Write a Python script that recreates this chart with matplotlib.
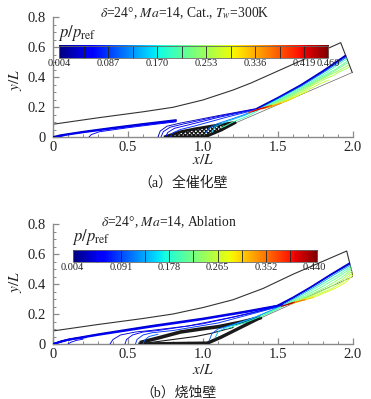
import numpy as np
import matplotlib
matplotlib.use("Agg")
import matplotlib.pyplot as plt
from matplotlib.patches import Polygon, Rectangle
from matplotlib.ticker import MultipleLocator, FuncFormatter

plt.rcParams['font.family'] = ['Liberation Serif', 'Noto Sans CJK SC']
plt.rcParams['mathtext.fontset'] = 'stix'
plt.rcParams['hatch.linewidth'] = 0.9

# ---------------- data ----------------
# colour-bar definition
cb_ticks_a = [0.004, 0.087, 0.170, 0.253, 0.336, 0.419, 0.460]
cb_levels_a = [0.004, 0.0455, 0.087, 0.1285, 0.170, 0.2115, 0.253, 0.2945,
               0.336, 0.3775, 0.419, 0.460]
cb_ticks_b = [0.004, 0.091, 0.178, 0.265, 0.352, 0.440]
cb_levels_b = [0.004, 0.0475, 0.091, 0.1345, 0.178, 0.2215, 0.265, 0.3085,
               0.352, 0.3955, 0.440, 0.444]

# domain outer boundary (x/L, y/L)
outer_a = [(0.0, 0.085), (0.3, 0.128), (0.6, 0.168), (0.8, 0.198), (1.0, 0.247),
           (1.2, 0.313), (1.32, 0.36), (1.6, 0.485), (1.918, 0.629), (1.995, 0.43)]
ramp_a = [(1.0, 0.0), (1.995, 0.43)]
outer_b = [(0.0, 0.087), (0.3, 0.13), (0.6, 0.17), (0.8, 0.2), (1.0, 0.243),
           (1.2, 0.295), (1.4, 0.37), (1.6, 0.465), (1.958, 0.62), (2.0, 0.45)]
ramp_b = [(1.0, 0.0), (2.0, 0.45)]

# pressure contour lines: (level p/p_ref, points)
contours_a = [
    (0.030, [(0.0, 0.0), (0.05, 0.012), (0.2, 0.035), (0.4, 0.062), (0.6, 0.087), (0.82, 0.113)]),
    (0.050, [(0.03, 0.0), (0.08, 0.013), (0.2, 0.031), (0.4, 0.057), (0.6, 0.082), (0.82, 0.107)]),
    (0.060, [(0.24, 0.0), (0.255, 0.016), (0.31, 0.035), (0.5, 0.062), (0.7, 0.087), (0.82, 0.101)]),
    (0.030, [(0.70, 0.0), (0.715, 0.04), (0.76, 0.072), (0.85, 0.093), (1.1, 0.142), (1.36, 0.19)]),
    (0.045, [(0.72, 0.0), (0.735, 0.035), (0.78, 0.065), (0.87, 0.087), (1.1, 0.137), (1.36, 0.188)]),
    (0.060, [(0.75, 0.0), (0.765, 0.03), (0.81, 0.058), (0.9, 0.08), (1.1, 0.13), (1.36, 0.186)]),
    (0.080, [(0.78, 0.0), (0.80, 0.028), (0.85, 0.05), (0.95, 0.075), (1.15, 0.13), (1.36, 0.184)]),
    (0.110, [(1.02, 0.03), (1.04, 0.06), (1.1, 0.09), (1.25, 0.14), (1.36, 0.182)]),
    (0.150, [(1.06, 0.03), (1.08, 0.07), (1.15, 0.1), (1.28, 0.145), (1.36, 0.18)]),
    (0.200, [(1.12, 0.06), (1.2, 0.1), (1.3, 0.14), (1.37, 0.178)]),
    # downstream fan
    (0.030, [(1.36, 0.19), (1.5, 0.262), (1.65, 0.345), (1.8, 0.44), (1.949, 0.542)]),
    (0.050, [(1.37, 0.19), (1.5, 0.259), (1.65, 0.341), (1.8, 0.435), (1.952, 0.537)]),
    (0.110, [(1.38, 0.192), (1.5, 0.255), (1.65, 0.336), (1.8, 0.428), (1.955, 0.53)]),
    (0.200, [(1.39, 0.193), (1.52, 0.258), (1.66, 0.333), (1.8, 0.415), (1.957, 0.52)]),
    (0.215, [(1.40, 0.194), (1.53, 0.256), (1.66, 0.325), (1.8, 0.405), (1.88, 0.45), (1.962, 0.505)]),
    (0.230, [(1.41, 0.195), (1.54, 0.255), (1.66, 0.318), (1.78, 0.385), (1.86, 0.43), (1.966, 0.495)]),
    (0.245, [(1.42, 0.196), (1.55, 0.252), (1.66, 0.31), (1.76, 0.37), (1.84, 0.41), (1.9, 0.44), (1.970, 0.48)]),
    (0.260, [(1.43, 0.197), (1.56, 0.25), (1.66, 0.30), (1.74, 0.35), (1.82, 0.39), (1.87, 0.41), (1.9, 0.43), (1.975, 0.465)]),
    (0.270, [(1.44, 0.198), (1.57, 0.248), (1.66, 0.29), (1.72, 0.325), (1.78, 0.355), (1.84, 0.38)]),
    (0.290, [(1.44, 0.197), (1.56, 0.243), (1.64, 0.28), (1.70, 0.305)]),
    (0.320, [(1.40, 0.19), (1.48, 0.215), (1.56, 0.24), (1.60, 0.26)]),
    (0.350, [(1.39, 0.186), (1.46, 0.205), (1.52, 0.225)]),
    (0.375, [(1.30, 0.16), (1.37, 0.186), (1.46, 0.212)]),
    (0.400, [(1.31, 0.165), (1.37, 0.185), (1.44, 0.205)]),
    (0.430, [(1.33, 0.17), (1.37, 0.183), (1.42, 0.198)]),
]
lead_a = [0, 1, 10]

contours_b = [
    (0.030, [(0.0, 0.0), (0.06, 0.02), (0.14, 0.035), (0.22, 0.045)]),
    (0.060, [(0.1, 0.0), (0.12, 0.012), (0.16, 0.025), (0.2, 0.032)]),
    (0.030, [(0.0, 0.0), (0.1, 0.03), (0.3, 0.065), (0.65, 0.12), (1.0, 0.17), (1.3, 0.22), (1.53, 0.262)]),
    (0.050, [(0.0, 0.0), (0.1, 0.027), (0.3, 0.06), (0.65, 0.114), (1.0, 0.165), (1.3, 0.215), (1.53, 0.26)]),
    (0.040, [(0.38, 0.0), (0.40, 0.03), (0.45, 0.06), (0.55, 0.08), (0.65, 0.09), (0.9, 0.12), (1.2, 0.18), (1.53, 0.258)]),
    (0.060, [(0.48, 0.0), (0.49, 0.03), (0.53, 0.06), (0.6, 0.08), (0.7, 0.09), (1.0, 0.135), (1.3, 0.2), (1.53, 0.256)]),
    (0.080, [(0.55, 0.0), (0.56, 0.03), (0.6, 0.06), (0.66, 0.075), (0.8, 0.09), (1.1, 0.14), (1.53, 0.255)]),
    (0.100, [(0.60, 0.0), (0.61, 0.025), (0.64, 0.05), (0.7, 0.065)]),
    (0.100, [(1.04, 0.02), (1.06, 0.07), (1.1, 0.1), (1.2, 0.13), (1.35, 0.18), (1.53, 0.255)]),
    (0.140, [(1.08, 0.04), (1.1, 0.08), (1.15, 0.11), (1.3, 0.16), (1.53, 0.253)]),
    (0.180, [(1.15, 0.1), (1.3, 0.15), (1.45, 0.21), (1.54, 0.255)]),
    (0.220, [(1.38, 0.18), (1.45, 0.215), (1.53, 0.252)]),
    # downstream fan
    (0.030, [(1.5, 0.258), (1.6, 0.31), (1.72, 0.38), (1.85, 0.462), (1.975, 0.537)]),
    (0.060, [(1.52, 0.26), (1.62, 0.318), (1.74, 0.39), (1.86, 0.464), (1.978, 0.532)]),
    (0.130, [(1.54, 0.263), (1.64, 0.32), (1.76, 0.39), (1.88, 0.465), (1.981, 0.524)]),
    (0.200, [(1.55, 0.264), (1.66, 0.32), (1.78, 0.39), (1.9, 0.46), (1.983, 0.515)]),
    (0.215, [(1.56, 0.265), (1.68, 0.32), (1.8, 0.385), (1.9, 0.445), (1.986, 0.505)]),
    (0.230, [(1.57, 0.266), (1.7, 0.32), (1.82, 0.38), (1.92, 0.44), (1.989, 0.495)]),
    (0.245, [(1.58, 0.268), (1.72, 0.32), (1.84, 0.375), (1.93, 0.43), (1.992, 0.485)]),
    (0.260, [(1.59, 0.27), (1.74, 0.32), (1.86, 0.37), (1.94, 0.42), (1.995, 0.473)]),
    (0.275, [(1.6, 0.272), (1.76, 0.32), (1.88, 0.37), (1.95, 0.41), (1.998, 0.46)]),
    (0.310, [(1.58, 0.265), (1.66, 0.29), (1.74, 0.31)]),
    (0.360, [(1.56, 0.262), (1.62, 0.28), (1.68, 0.295)]),
    (0.410, [(1.52, 0.25), (1.56, 0.263), (1.61, 0.28)]),
    (0.430, [(1.53, 0.253), (1.57, 0.265), (1.6, 0.275)]),
]
lead_b = [0, 2, 3, 12]

# recirculation (dense black lines) regions
recirc_a = [(0.74, 0.0), (1.02, 0.003), (1.12, 0.045), (1.22, 0.098), (1.1, 0.08),
            (0.95, 0.055), (0.85, 0.035)]
recirc_b_top = [(0.59, 0.012), (0.7, 0.04), (0.85, 0.08), (1.0, 0.102), (1.1, 0.115),
                (1.25, 0.145), (1.38, 0.175)]
recirc_b_bot = [(0.58, 0.0), (0.8, 0.003), (1.03, 0.006), (1.12, 0.045), (1.25, 0.11),
                (1.38, 0.175)]
recirc_b_mid = [(0.62, 0.006), (0.8, 0.03), (0.95, 0.05), (1.05, 0.07), (1.2, 0.11)]

titles = [r'$\delta$=24°, $Ma$=14, Cat., $T_w$=300K', r'$\delta$=24°, $Ma$=14, Ablation']
captions = ['（a）全催化壁', '（b）烧蚀壁']

# ---------------- figure ----------------
fig = plt.figure(figsize=(3.71, 3.99), dpi=100)
axes_pos = [[53/371, (399-137)/399, 300/371, 120/399],
            [53/371, (399-344)/399, 300/371, 120/399]]

cmap = plt.get_cmap('jet')
spine_col = '#8a8a8a'
txt_col = '#222222'

panels = [
    dict(outer=outer_a, ramp=ramp_a, cont=contours_a, lead=lead_a,
         levels=cb_levels_a, ticks=cb_ticks_a, cbx=(0.04, 1.835), cby=(0.525, 0.607),
         lab=(0.03, 0.693), tpos=(0.88, 0.827), xl=-0.155, yl=0.38,
         cap=(183/371, (399-183)/399)),
    dict(outer=outer_b, ramp=ramp_b, cont=contours_b, lead=lead_b,
         levels=cb_levels_b, ticks=cb_ticks_b, cbx=(0.13, 1.76), cby=(0.549, 0.627),
         lab=(0.125, 0.713), tpos=(0.775, 0.813), xl=-0.173, yl=0.41,
         cap=(179/371, (399-393)/399)),
]

for i, P in enumerate(panels):
    ax = fig.add_axes(axes_pos[i])
    ax.set_xlim(0, 2.0)
    ax.set_ylim(0, 0.8)
    vmin, vmax = P['levels'][0], P['levels'][-1]
    norm = plt.Normalize(vmin, vmax)

    # domain boundary
    ox, oy = zip(*P['outer'])
    ax.plot(ox, oy, color='#333333', lw=0.8, zorder=2)
    rx, ry = zip(*P['ramp'])
    ax.plot(rx, ry, color='#666666', lw=0.5, zorder=2)

    # recirculation region (black streamline bundle)
    if i == 0:
        ax.add_patch(Polygon(recirc_a, closed=True, facecolor='none', edgecolor='#161616',
                             hatch='xxxxxxxx', lw=2.0, zorder=3))
    else:
        for seg, lw in [(recirc_b_top, 2.6), (recirc_b_bot, 2.4), (recirc_b_mid, 0.8)]:
            sx, sy = zip(*seg)
            ax.plot(sx, sy, color='#1a1a1a', lw=lw, zorder=3)

    # contour lines
    for j, (lev, pts) in enumerate(P['cont']):
        px, py = zip(*pts)
        ax.plot(px, py, color=cmap(norm(lev)), lw=1.3 if j in P['lead'] else 0.65,
                zorder=4, solid_capstyle='round')

    # colour bar drawn inside the axes
    x0, x1 = P['cbx']
    y0, y1 = P['cby']
    grad = np.linspace(vmin, vmax, 256).reshape(1, -1)
    ax.imshow(grad, cmap=cmap, norm=norm, extent=[x0, x1, y0, y1], aspect='auto',
              origin='lower', zorder=5, interpolation='bilinear')
    ax.set_aspect('auto')
    for lv in P['levels'][1:-1]:
        xx = x0 + (lv - vmin) / (vmax - vmin) * (x1 - x0)
        ax.plot([xx, xx], [y0, y1], color='#222222', lw=0.6, zorder=6)
    ax.add_patch(Rectangle((x0, y0), x1 - x0, y1 - y0, fill=False,
                           edgecolor='#666666', lw=0.6, zorder=6))
    for t in P['ticks']:
        xx = x0 + (t - vmin) / (vmax - vmin) * (x1 - x0)
        ax.text(xx, y0 - 0.037, f'{t:.3f}', ha='center', va='center',
                fontsize=7.5, color=txt_col, zorder=7)
    ax.text(P['lab'][0], P['lab'][1], r'$p/p_{\rm ref}$', ha='left', va='center',
            fontsize=12, color=txt_col, zorder=7)

    # title
    ax.text(P['tpos'][0], P['tpos'][1], titles[i], ha='center', va='center',
            fontsize=9.8, color=txt_col, clip_on=False)

    # axes styling
    for s in ['top', 'right']:
        ax.spines[s].set_visible(False)
    for s in ['left', 'bottom']:
        ax.spines[s].set_color(spine_col)
        ax.spines[s].set_linewidth(1.0)
    ax.xaxis.set_major_locator(MultipleLocator(0.5))
    ax.xaxis.set_minor_locator(MultipleLocator(0.1))
    ax.yaxis.set_major_locator(MultipleLocator(0.2))
    ax.yaxis.set_minor_locator(MultipleLocator(0.05))
    ax.tick_params(which='both', direction='in', color=spine_col, labelcolor=txt_col,
                   labelsize=10.5)
    ax.tick_params(which='major', length=4, width=0.9)
    ax.tick_params(which='minor', length=2.2, width=0.7)
    ax.tick_params(axis='y', pad=5)
    ax.tick_params(axis='x', pad=3)
    fmt = FuncFormatter(lambda v, p: '0' if v == 0 else f'{v:.1f}')
    ax.xaxis.set_major_formatter(fmt)
    ax.yaxis.set_major_formatter(fmt)
    ax.text(1.0, P['xl'], r'$x/L$', ha='center', va='center', fontsize=11,
            color=txt_col, clip_on=False)
    ax.text(-0.253, P['yl'], r'$y/L$', ha='center', va='center', fontsize=11,
            rotation=90, color=txt_col, clip_on=False)

    fig.text(P['cap'][0], P['cap'][1], captions[i], ha='center', va='center',
             fontsize=10, color=txt_col)

fig.savefig('out.png', dpi=100, facecolor='white')
